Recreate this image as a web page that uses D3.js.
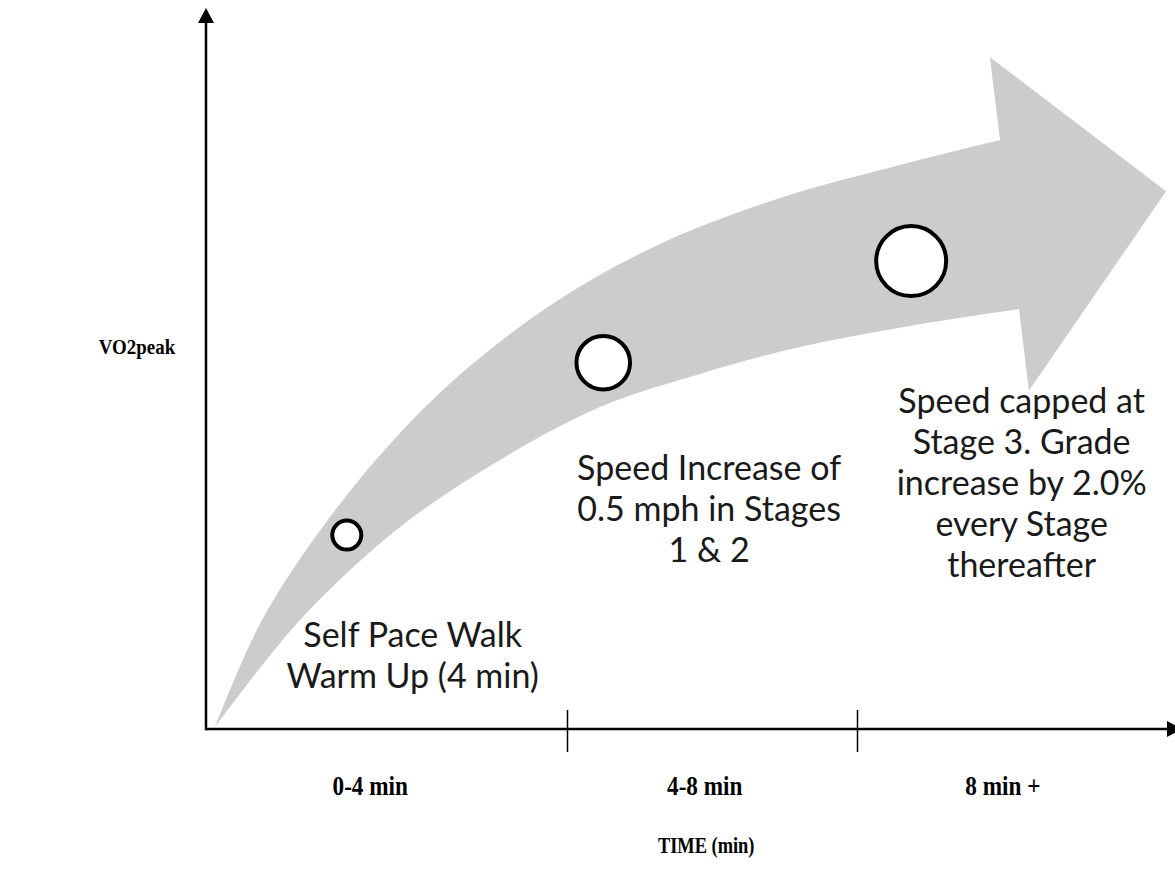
<!DOCTYPE html>
<html>
<head>
<meta charset="utf-8">
<script src="https://cdn.jsdelivr.net/npm/d3@7"></script>
<style>
  html, body { margin: 0; padding: 0; background: #fff; }
  svg { display: block; }
</style>
</head>
<body>
<svg id="chart" width="1175" height="891"></svg>
<script>
// ---------- data ----------
const periodLabels = ["0-4 min", "4-8 min", "8 min +"];
const periodCenters = [1.82, 5.9, 10.02];          // minutes
const periodBounds = [4, 8];                        // minutes (tick marks)
const xTitle = "TIME (min)";
const yTitle = "VO2peak";

// curved arrow band (time in minutes, VO2 level 0-100)
const arrowUpperEdge = [[0.10,0.28],[0.62,15.12],[1.374,29.40],[2.150,41.05],[2.925,50.35],[3.922,59.64],[5.283,67.27],[6.938,73.65],[8.595,78.22],[9.98,81.69]];
const arrowHead = [[9.98,81.69],[9.84,93.2],[12.28,74.6],[10.38,46.9],[10.243,58.25]];
const arrowLowerEdge = [[10.243,58.25],[9.052,56.45],[7.214,52.98],[5.834,49.24],[4.455,44.66],[3.258,37.31],[2.150,28.02],[1.042,15.12],[0.10,0.28]];

// stage markers
const stageTime = [1.56, 4.50, 8.75];
const stageVO2 = [26.9, 50.8, 64.9];
const stageIntensity = [1, 2.2, 3];

// annotations
const noteLines = [
  ["Self Pace Walk", "Warm Up (4 min)"],
  ["Speed Increase of", "0.5 mph in Stages", "1 & 2"],
  ["Speed capped at", "Stage 3. Grade", "increase by 2.0%", "every Stage", "thereafter"]
];
const noteTime = [2.29, 5.96, 10.28];
const noteVO2 = [11.4, 34.5, 43.8];

// ---------- scales ----------
const svg = d3.select("#chart");
const x = d3.scaleLinear().domain([0, 4, 8, 12.5]).range([206, 567, 857, 1182]);
const y = d3.scaleLinear().domain([0, 100]).range([729, 8]);
const r = d3.scaleLinear().domain([1, 3]).range([14.5, 35]);

// ---------- curved arrow ----------
const curve = d3.line().x(d => x(d[0])).y(d => y(d[1])).curve(d3.curveCatmullRom.alpha(0.5));
const straight = d3.line().x(d => x(d[0])).y(d => y(d[1]));
const arrowD = curve(arrowUpperEdge) +
  straight(arrowHead).replace(/^M/, "L") +
  curve(arrowLowerEdge).replace(/^M/, "L") + "Z";
svg.append("path").attr("d", arrowD).attr("fill", "#cccccc").attr("stroke", "none");

// ---------- axes ----------
const xAxis = d3.axisBottom(x).tickValues(periodBounds).tickFormat("").tickSizeInner(23).tickSizeOuter(0);
const gx = svg.append("g").attr("transform", `translate(0,${y(0)})`).call(xAxis);
gx.select(".domain").attr("stroke", "#000").attr("stroke-width", 2.5)
  .attr("d", `M${x(0)},0H${x(12.5) - 12}`);
gx.selectAll(".tick line").attr("y1", -19).attr("stroke", "#000").attr("stroke-width", 1.5);

const yAxis = d3.axisLeft(y).tickValues([]).tickSizeOuter(0);
const gy = svg.append("g").attr("transform", `translate(${x(0)},0)`).call(yAxis);
gy.select(".domain").attr("stroke", "#000").attr("stroke-width", 2.5)
  .attr("d", `M0,${y(0) + 1.2}V${y(100) + 12}`);

// arrowheads
svg.append("path")
  .attr("d", `M${x(0)},${y(100)}L${x(0) - 8},${y(100) + 15}L${x(0) + 8},${y(100) + 15}Z`)
  .attr("fill", "#000");
svg.append("path")
  .attr("d", `M${x(12.5)},${y(0)}L${x(12.5) - 15},${y(0) - 8}L${x(12.5) - 15},${y(0) + 8}Z`)
  .attr("fill", "#000");

// ---------- stage circles ----------
svg.selectAll("circle.stage").data(stageTime).join("circle")
  .attr("class", "stage")
  .attr("cx", (d, i) => x(d))
  .attr("cy", (d, i) => y(stageVO2[i]))
  .attr("r", (d, i) => r(stageIntensity[i]))
  .attr("fill", "#fff").attr("stroke", "#000").attr("stroke-width", 4);

// ---------- annotations ----------
noteLines.forEach((lines, i) => {
  const t = svg.append("text")
    .attr("x", x(noteTime[i])).attr("y", y(noteVO2[i]))
    .attr("text-anchor", "middle")
    .attr("font-family", "Lato, 'Open Sans', sans-serif")
    .attr("font-size", 34).attr("fill", "#1a1a1a");
  lines.forEach((ln, j) => {
    t.append("tspan").attr("x", x(noteTime[i])).attr("dy", j === 0 ? 0 : 41).text(ln);
  });
});

// ---------- axis labels (condensed bold serif) ----------
const serif = "'Liberation Serif', 'Times New Roman', serif";
svg.selectAll("text.period").data(periodLabels).join("text")
  .attr("class", "period")
  .attr("transform", (d, i) => `translate(${x(periodCenters[i])},${y(0) + 66}) scale(0.86,1)`)
  .attr("text-anchor", "middle")
  .attr("font-family", serif)
  .attr("font-weight", "bold").attr("font-size", 27)
  .text(d => d);

svg.append("text")
  .attr("transform", `translate(${x(5.92)},${y(0) + 124}) scale(0.8,1)`)
  .attr("text-anchor", "middle")
  .attr("font-family", serif)
  .attr("font-weight", "bold").attr("font-size", 23)
  .text(xTitle);

svg.append("text")
  .attr("transform", `translate(${x(0) - 69},${y(52)}) scale(0.86,1)`)
  .attr("text-anchor", "middle")
  .attr("font-family", serif)
  .attr("font-weight", "bold").attr("font-size", 22)
  .text(yTitle);
</script>
</body>
</html>
